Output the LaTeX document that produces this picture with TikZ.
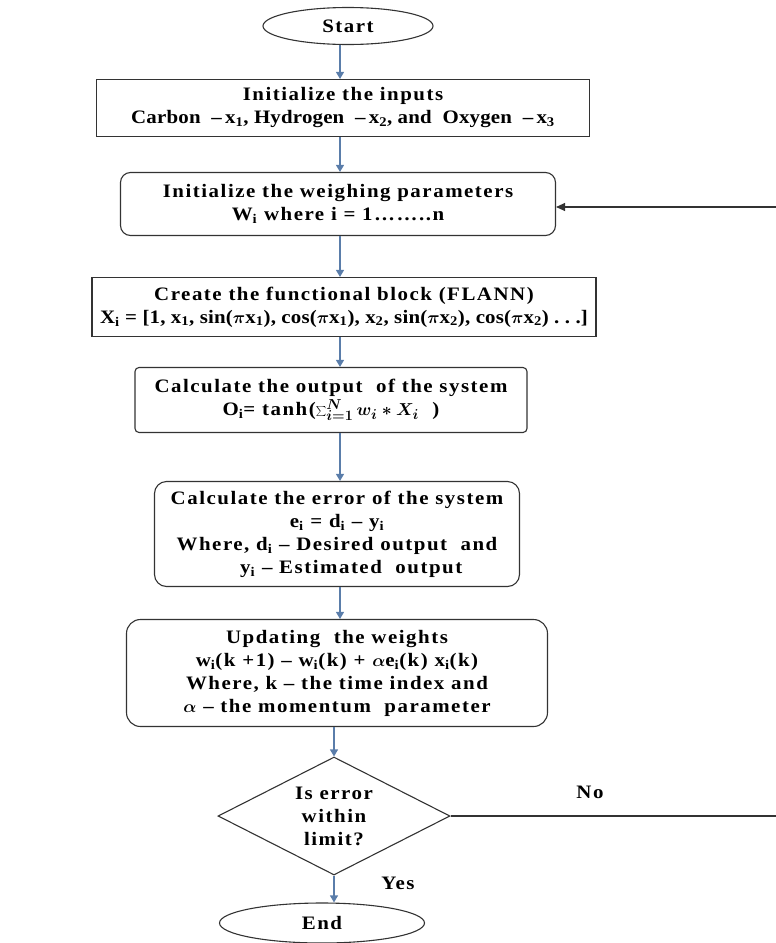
\documentclass[tikz,border=0pt]{standalone}
\usepackage{fontspec}
\setmainfont{Liberation Serif}[FakeStretch=1.1, LetterSpace=8]
\newfontfamily\tightfont{Liberation Serif}[FakeStretch=1.1, LetterSpace=1]
\usetikzlibrary{shapes.geometric,arrows.meta}
\definecolor{flowblue}{HTML}{5A7DAA}
\definecolor{edge}{HTML}{333333}
\begin{document}
\begin{tikzpicture}[x=1pt,y=-1pt,
  every node/.style={font=\fontsize{19}{23}\selectfont\bfseries\boldmath, align=center, inner sep=0pt},
  box/.style={draw=edge, line width=1.1pt, rectangle},
  oval/.style={draw=edge, line width=1.1pt, ellipse},
  decision/.style={draw=edge, line width=1.1pt, diamond, aspect=2},
  flow/.style={draw=flowblue, line width=1.1pt, -{Triangle[width=8pt,length=7pt]}},
  back/.style={draw=edge, line width=1.1pt},
  lbl/.style={font=\fontsize{19}{23}\selectfont\bfseries}]
\useasboundingbox (0,0) rectangle (776,943);
\coordinate (ax) at (340,0);

\node[oval, minimum width=170pt, minimum height=37pt] (start) at (348,26) {Start};
\node[box, minimum width=493pt, minimum height=57pt] (b1) at (343,108)
  {Initialize\ the\ inputs\\{\tightfont\bfseries Carbon\ \ –\,x\textsubscript{1}, Hydrogen\ \ –\,x\textsubscript{2}, and\ \ Oxygen\ \ –\,x\textsubscript{3}}};
\node[box, rounded corners=10pt, minimum width=435pt, minimum height=63pt] (b2) at (338,204)
  {Initialize\ the\ weighing\ parameters\\W\textsubscript{i} where i = 1……..n};
\node[box, minimum width=504pt, minimum height=59pt] (b3) at (344,307)
  {Create\ the\ functional\ block\ (FLANN)\\{\tightfont\bfseries X\textsubscript{i} = [1, x\textsubscript{1}, sin($\pi$x\textsubscript{1}), cos($\pi$x\textsubscript{1}), x\textsubscript{2}, sin($\pi$x\textsubscript{2}), cos($\pi$x\textsubscript{2}) .\ .\ .]}};
\node[box, rounded corners=4pt, minimum width=392pt, minimum height=65pt] (b4) at (331,400)
  {Calculate\ the\ output\ \ of\ the\ system\\O\textsubscript{i}= tanh($\sum\nolimits_{i=1}^{N} w_i * X_i$\ \ )};
\node[box, rounded corners=12pt, minimum width=365pt, minimum height=105pt] (b5) at (337,534)
  {Calculate\ the\ error\ of\ the\ system\\e\textsubscript{i} = d\textsubscript{i} – y\textsubscript{i}\\Where, d\textsubscript{i} – Desired\ output\ \ and\\\hspace*{1.5em}y\textsubscript{i} – Estimated\ \ output};
\node[box, rounded corners=14pt, minimum width=421pt, minimum height=107pt] (b6) at (337,673)
  {Updating\ \ the\ weights\\w\textsubscript{i}(k +1) – w\textsubscript{i}(k) + $\alpha$e\textsubscript{i}(k) x\textsubscript{i}(k)\\Where, k – the time index and\\$\alpha$ – the\ momentum\ \ parameter};
\node[decision, minimum width=232pt, minimum height=118pt] (d) at (334,816)
  {Is error\\within\\limit?};
\node[oval, minimum width=205pt, minimum height=40pt] (end) at (322,923) {End};

\node[lbl] (no) at (590,792) {No};
\node[lbl] (yes) at (398,883) {Yes};

\coordinate (r1) at (776,816);
\coordinate (r2) at (776,207);

\draw[flow] (start.south -| ax) -- (b1.north -| ax);
\draw[flow] (b1.south -| ax) -- (b2.north -| ax);
\draw[flow] (b2.south -| ax) -- (b3.north -| ax);
\draw[flow] (b3.south -| ax) -- (b4.north -| ax);
\draw[flow] (b4.south -| ax) -- (b5.north -| ax);
\draw[flow] (b5.south -| ax) -- (b6.north -| ax);
\draw[flow] (b6.south -| d.north) -- (d.north);
\draw[flow] (d.south) -- (end.north -| d.south);

\draw[back] (d.east) -- (r1);
\draw[back, -{Triangle[width=8pt,length=9pt]}] (r2) -- (b2.east |- r2);
\end{tikzpicture}
\end{document}
